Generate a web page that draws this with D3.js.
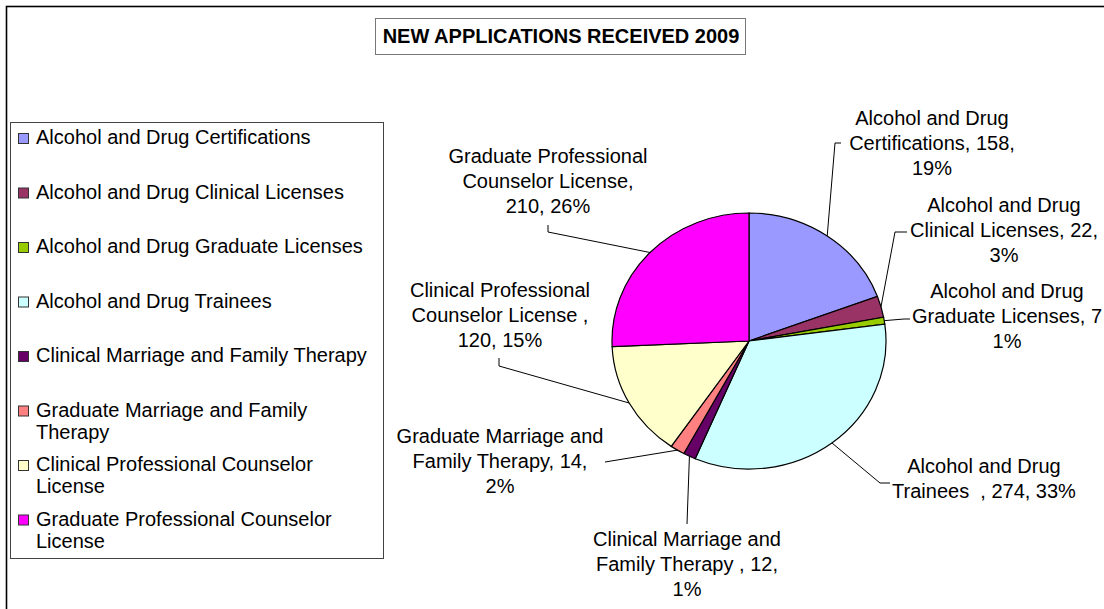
<!DOCTYPE html>
<html>
<head>
<meta charset="utf-8">
<script src="https://cdn.jsdelivr.net/npm/d3@7"></script>
<style>
  html, body { margin: 0; padding: 0; background: #fff; }
  svg { display: block; font-family: "Liberation Sans", Arial, sans-serif; }
</style>
</head>
<body>
<div id="chart"></div>
<script>
// Data
const categories = [
    'Alcohol and Drug Certifications',
    'Alcohol and Drug Clinical Licenses',
    'Alcohol and Drug Graduate Licenses',
    'Alcohol and Drug Trainees',
    'Clinical Marriage and Family Therapy',
    'Graduate Marriage and Family Therapy',
    'Clinical Professional Counselor License',
    'Graduate Professional Counselor License'
];
// names as they appear in the slice labels (some carry trailing spaces)
const labelNames = [
    'Alcohol and Drug Certifications',
    'Alcohol and Drug Clinical Licenses',
    'Alcohol and Drug Graduate Licenses',
    'Alcohol and Drug Trainees  ',
    'Clinical Marriage and Family Therapy ',
    'Graduate Marriage and Family Therapy',
    'Clinical Professional Counselor License ',
    'Graduate Professional Counselor License'
];
const values = [158, 22, 7, 274, 12, 14, 120, 210];
// percentages as printed on the chart
const percents = [19, 3, 1, 33, 1, 2, 15, 26];
const colors = ['#9999FF', '#993366', '#99CC00', '#CCFFFF', '#660066', '#FF8080', '#FFFFCC', '#FF00FF'];
const title = 'NEW APPLICATIONS RECEIVED 2009';

// Layout for the slice labels: centre x, first baseline, words per line, leader start and elbow
const labelLayout = [
    { x: 932, y: 125, words: [3, 2, 1], start: [841, 143], elbow: [835, 143] },
    { x: 1004, y: 212, words: [3, 3, 1], start: [907, 232], elbow: [895, 232] },
    { x: 1007, y: 298, words: [3, 3, 1], start: [910, 319], elbow: [904, 319], clipComma: true },
    { x: 984, y: 473, words: [3, 4], start: [890, 483], elbow: [880, 483] },
    { x: 687, y: 546, words: [3, 4, 1], start: [687, 524], elbow: [687, 524] },
    { x: 500, y: 443, words: [3, 3, 1], start: [605, 462], elbow: [605, 462] },
    { x: 500, y: 297, words: [2, 3, 2], start: [499, 358], elbow: [499, 366] },
    { x: 548, y: 163, words: [2, 2, 2], start: [548, 225], elbow: [548, 232] }
];

const width = 1104, height = 609;
const cx = 749, cy = 341, rx = 137, ry = 128;
const fontSize = 20, lineH = 25;

const svg = d3.select('#chart')
    .append('svg')
    .attr('width', width)
    .attr('height', height);

// Chart area border (only top and left visible)
svg.append('rect')
    .attr('x', 6.5).attr('y', 6.5)
    .attr('width', width + 20).attr('height', height + 20)
    .attr('fill', 'none')
    .attr('stroke', '#000')
    .attr('stroke-width', 1.6);

// Title
svg.append('rect')
    .attr('x', 375.5).attr('y', 18.5)
    .attr('width', 370).attr('height', 36)
    .attr('fill', '#fff')
    .attr('stroke', '#777');
svg.append('text')
    .attr('x', 561).attr('y', 43)
    .attr('text-anchor', 'middle')
    .style('font-size', fontSize + 'px')
    .style('font-weight', 'bold')
    .text(title);

// Pie
const pie = d3.pie().sort(null).value(d => d);
const arcs = pie(values);
const arc = d3.arc().innerRadius(0).outerRadius(rx);

const pieG = svg.append('g')
    .attr('transform', `translate(${cx},${cy}) scale(1,${ry / rx})`);

pieG.selectAll('path')
    .data(arcs)
    .enter()
    .append('path')
    .attr('d', arc)
    .attr('fill', (d, i) => colors[i])
    .attr('stroke', '#000')
    .attr('stroke-width', 1.2)
    .attr('vector-effect', 'non-scaling-stroke');

// Slice labels with leader lines
const edgePoint = d => {
    const a = (d.startAngle + d.endAngle) / 2;
    return [cx + rx * Math.sin(a), cy - ry * Math.cos(a)];
};

const labelG = svg.append('g');
arcs.forEach((d, i) => {
    const lay = labelLayout[i];
    const full = `${labelNames[i]}, ${d.value}, ${percents[i]}%`;
    const tokens = full.split(/ (?=\S)/);
    const lines = [];
    let k = 0;
    lay.words.forEach(n => {
        lines.push(tokens.slice(k, k + n).join(' '));
        k += n;
    });
    // the reference cuts this line's trailing comma at the chart edge
    if (lay.clipComma) lines[1] = lines[1].replace(/,$/, '');

    const t = labelG.append('text')
        .attr('text-anchor', 'middle')
        .style('font-size', fontSize + 'px')
        .style('white-space', 'pre')
        .attr('fill', '#000');
    lines.forEach((ln, j) => {
        t.append('tspan')
            .attr('x', lay.x)
            .attr('y', lay.y + j * lineH)
            .text(ln);
    });

    const end = edgePoint(d);
    labelG.append('path')
        .attr('d', d3.line()([lay.start, lay.elbow, end]))
        .attr('fill', 'none')
        .attr('stroke', '#000')
        .attr('stroke-width', 1);
});

// Legend
const legendG = svg.append('g');
legendG.append('rect')
    .attr('x', 10.5).attr('y', 122.5)
    .attr('width', 373).attr('height', 436)
    .attr('fill', '#fff')
    .attr('stroke', '#444');

const legendTop = 144, legendStep = 54.5, legendWrap = 345;
const measure = legendG.append('text').style('font-size', fontSize + 'px');
const textWidth = s => { measure.text(s); return measure.node().getComputedTextLength(); };

categories.forEach((name, i) => {
    const base = legendTop + i * legendStep;
    const words = name.split(' ');
    const lines = [];
    let cur = '';
    words.forEach(w => {
        const test = cur ? cur + ' ' + w : w;
        if (cur && textWidth(test) > legendWrap) {
            lines.push(cur);
            cur = w;
        } else {
            cur = test;
        }
    });
    lines.push(cur);

    legendG.append('rect')
        .attr('x', 18.5).attr('y', base - 10.5)
        .attr('width', 10).attr('height', 10)
        .attr('fill', colors[i])
        .attr('stroke', '#333')
        .attr('stroke-width', 1);

    const t = legendG.append('text')
        .style('font-size', fontSize + 'px')
        .attr('fill', '#000');
    lines.forEach((ln, j) => {
        t.append('tspan')
            .attr('x', 36)
            .attr('y', base + j * 22)
            .text(ln);
    });
});
measure.remove();
</script>
</body>
</html>
